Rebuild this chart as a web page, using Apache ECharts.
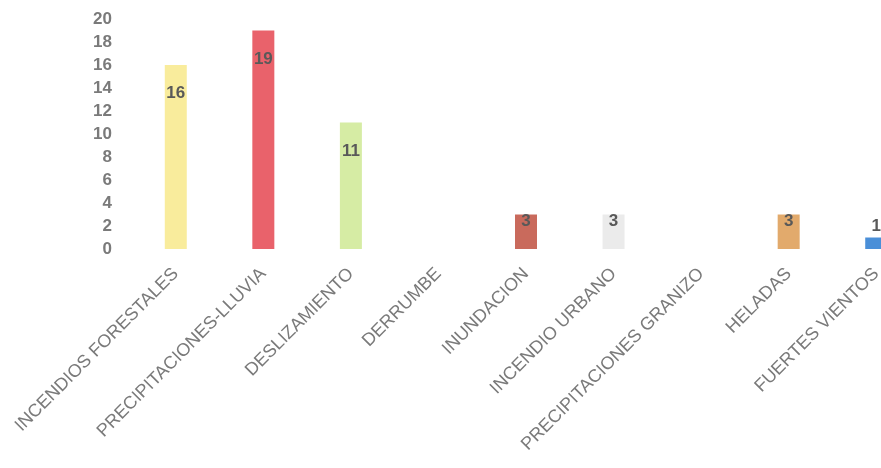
<!DOCTYPE html>
<html>
<head>
<meta charset="utf-8">
<style>
  html, body { margin: 0; padding: 0; background: #ffffff; }
  #chart { width: 881px; height: 468px; }
</style>
<script src="https://cdn.jsdelivr.net/npm/echarts@6/dist/echarts.min.js"></script>
</head>
<body>
<div id="chart"></div>
<script>
// Emergency events by type
const categories = [
  'INCENDIOS FORESTALES',
  'PRECIPITACIONES-LLUVIA',
  'DESLIZAMIENTO',
  'DERRUMBE',
  'INUNDACION',
  'INCENDIO URBANO',
  'PRECIPITACIONES GRANIZO',
  'HELADAS',
  'FUERTES VIENTOS'
];
const counts = [16, 19, 11, 0, 3, 3, 0, 3, 1];
const barColors = ['#f9ec9c', '#e9626b', '#d6eca4', '#cccccc', '#c96a5c', '#ebebeb', '#cccccc', '#e2aa6c', '#4a8fd8'];
const yTicks = { min: 0, max: 20, step: 2 };

// Label placement per bar: tall bars carry the number inside near the top,
// short bars near their top edge, the smallest one just above.
function labelFor(v) {
  if (v === 0) return { show: false };
  if (v >= 10) return { show: true, position: 'insideTop', distance: 20 };
  if (v >= 2) return { show: true, position: 'insideTop', distance: -2 };
  return { show: true, position: 'top', distance: 3 };
}

const chart = echarts.init(document.getElementById('chart'), null, { renderer: 'canvas' });
chart.setOption({
  backgroundColor: '#ffffff',
  animation: false,
  grid: { left: 132, top: 19, width: 788, height: 230, containLabel: false, outerBoundsMode: 'none' },
  xAxis: {
    type: 'category',
    data: categories,
    axisLine: { show: false },
    axisTick: { show: false },
    axisLabel: {
      interval: 0,
      rotate: 45,
      margin: 22,
      color: '#7a7a7a',
      fontFamily: 'Liberation Sans, Arial, sans-serif',
      fontSize: 18
    }
  },
  yAxis: {
    type: 'value',
    min: yTicks.min,
    max: yTicks.max,
    interval: yTicks.step,
    axisLine: { show: false },
    axisTick: { show: false },
    splitLine: { show: false },
    axisLabel: {
      margin: 20,
      color: '#7a7a7a',
      fontFamily: 'Liberation Sans, Arial, sans-serif',
      fontSize: 17,
      fontWeight: 'bold'
    }
  },
  series: [{
    type: 'bar',
    barWidth: 22,
    data: counts.map((v, i) => ({
      value: v,
      itemStyle: { color: barColors[i] },
      label: labelFor(v)
    })),
    label: {
      color: '#595959',
      fontFamily: 'Liberation Sans, Arial, sans-serif',
      fontSize: 17,
      fontWeight: 'bold'
    }
  }]
});
</script>
</body>
</html>
